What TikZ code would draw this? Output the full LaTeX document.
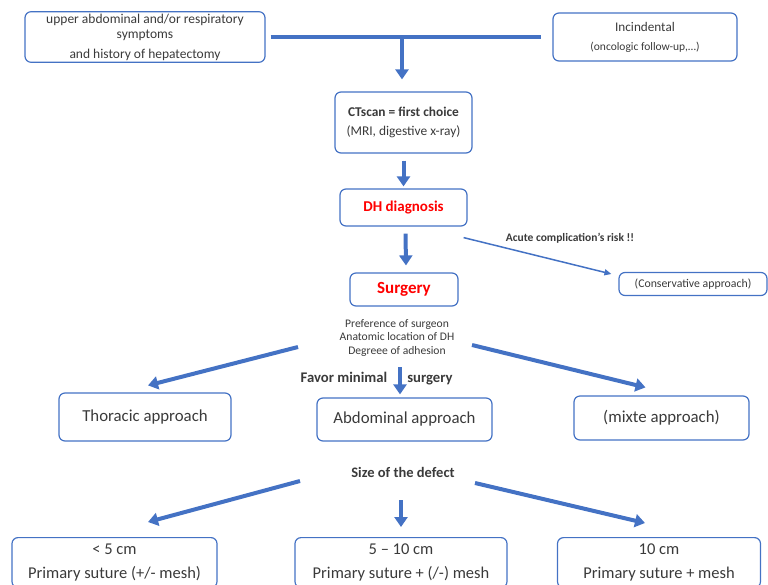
\documentclass[tikz,border=0pt]{standalone}
\usepackage{fontspec}
\setmainfont{Carlito}
\usepackage{xcolor}
\usetikzlibrary{arrows.meta,positioning,calc}
\definecolor{boxblue}{HTML}{4472C4}
\definecolor{txtgray}{HTML}{3A3A3A}

\begin{document}
\begin{tikzpicture}[
  x=1pt, y=1pt,
  every node/.style={text=txtgray},
  fbox/.style={draw=boxblue, line width=1.2pt, rounded corners=6pt, align=center, inner sep=2pt},
  redtxt/.style={text=red, font=\bfseries\fontsize{15}{18}\selectfont},
  ar/.style={-{Triangle[length=10pt,width=13pt]}, draw=boxblue, fill=boxblue, line width=4pt},
  thinar/.style={-{Triangle[length=7pt,width=6pt]}, draw=boxblue, fill=boxblue, line width=1.5pt},
  big/.style={font=\fontsize{16.8}{19}\selectfont},
  sizebox/.style={fbox, font=\fontsize{16.5}{24}\selectfont, minimum height=50pt, anchor=north}
]
\useasboundingbox (0,0) rectangle (768,-584);
% entry
\node[fbox, minimum width=240pt, minimum height=48pt, font=\fontsize{13.5}{15}\selectfont] (sympt) at (145,-37)
  {upper abdominal and/or respiratory\\ symptoms\\[5pt] and history of hepatectomy};
\node[fbox, minimum width=184pt, minimum height=48pt, font=\fontsize{13.2}{19}\selectfont] (incid) at (645,-37)
  {Incindental\\ {\fontsize{11.5}{13}\selectfont (oncologic follow-up,\ldots)}};
\node[fbox, minimum width=137pt, minimum height=61pt, font=\fontsize{13.4}{19}\selectfont] (ct) at (403.5,-122.5)
  {\textbf{CTscan = first choice}\\ (MRI, digestive x-ray)};
\draw[boxblue, line width=4pt] ([xshift=5pt]sympt.east) -- ([xshift=-11pt]incid.west);
\coordinate (join) at (ct.north |- sympt.east);
\draw[ar] ([xshift=-1.5pt]join) -- ([xshift=-1.5pt,yshift=12pt]ct.north);
% diagnosis
\node[fbox, minimum width=127pt, minimum height=37pt, redtxt] (dh) at (403.5,-207.5) {DH diagnosis};
\node[fbox, minimum width=108pt, minimum height=33pt, redtxt, font=\bfseries\fontsize{17}{20}\selectfont] (surg) at (404,-289.5) {Surgery};
\node[fbox, minimum width=148pt, minimum height=23pt, font=\fontsize{11.8}{14}\selectfont] (cons) at (693,-284) {(Conservative approach)};
\draw[ar] ([yshift=-7pt]ct.south) -- ([yshift=2pt]dh.north);
\draw[ar] ([xshift=2pt,yshift=-7pt]dh.south) -- ([xshift=2pt,yshift=7pt]surg.north);
\draw[thinar] ([shift={(-4,-11)}]dh.south east) -- ([shift={(-7,10)}]cons.west);
\node[font=\bfseries\fontsize{11.5}{13}\selectfont] (risk) at (570,-238) {Acute complication’s risk !!};
% approach
\node[align=center, font=\fontsize{11.6}{13.5}\selectfont] (crit) at (397,-338)
  {Preference of surgeon\\ Anatomic location of DH\\ Degreee of adhesion};
\node[fbox, big, minimum width=172pt, minimum height=48pt] (thor) at (145,-417) {Thoracic approach};
\node[fbox, big, minimum width=175pt, minimum height=43pt] (abd) at (404.5,-419.5) {Abdominal approach};
\node[fbox, big, minimum width=175pt, minimum height=44pt] (mixte) at (661.5,-418) {(mixte approach)};
\draw[ar] ([shift={(-99,-9)}]crit.center) -- ([shift={(3,7)}]thor.north);
\draw[ar] ([shift={(3,-29)}]crit.center) -- ([shift={(-4.5,3)}]abd.north);
\draw[ar] ([shift={(75,-7)}]crit.center) -- ([shift={(-16,8)}]mixte.north);
\node[anchor=base, font=\bfseries\fontsize{14.7}{17}\selectfont] (favor) at (344,-382) {Favor minimal};
\node[anchor=base, font=\bfseries\fontsize{14.7}{17}\selectfont] (favsurg) at (430,-382) {surgery};
% defect size
\node[font=\bfseries\fontsize{14.5}{17}\selectfont] (size) at (403,-472) {Size of the defect};
\node[sizebox, minimum width=205pt] (small) at (114.5,-537) {< 5 cm\\ Primary suture (+/- mesh)};
\node[sizebox, minimum width=212pt] (medium) at (401,-537) {5 – 10 cm\\ Primary suture + (/-) mesh};
\node[sizebox, minimum width=203pt] (large) at (659,-537) {10 cm\\ Primary suture + mesh};
\draw[ar] ([shift={(-103,-9)}]size.center) -- ([shift={(33.5,15)}]small.north);
\draw[ar] ([shift={(-2,-28)}]size.center) -- ([shift={(0,10)}]medium.north);
\draw[ar] ([shift={(72,-11)}]size.center) -- ([shift={(-14,14)}]large.north);
\end{tikzpicture}
\end{document}
